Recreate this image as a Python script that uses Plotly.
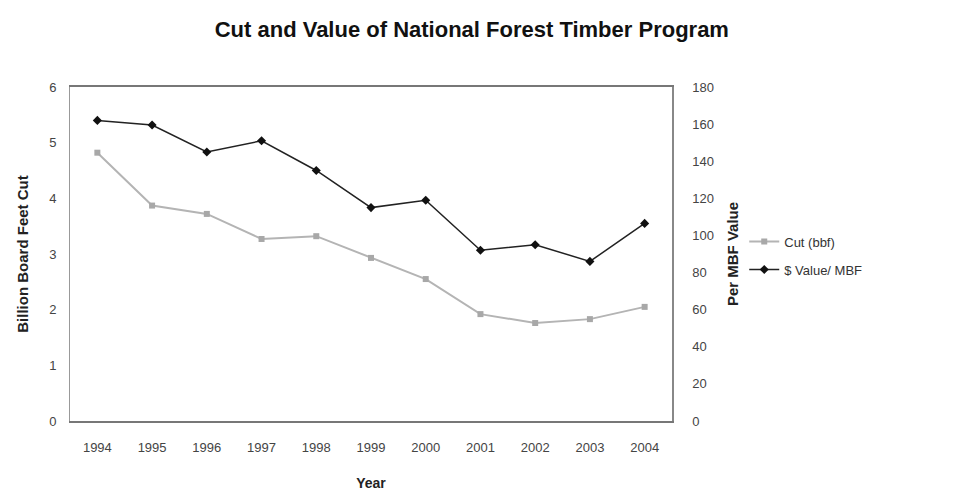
import plotly.graph_objects as go

years = ["1994", "1995", "1996", "1997", "1998", "1999", "2000", "2001", "2002", "2003", "2004"]
cut_bbf = [4.82, 3.87, 3.72, 3.27, 3.32, 2.93, 2.55, 1.92, 1.76, 1.83, 2.05]
value_per_mbf = [162, 159.5, 145, 151, 135, 115, 119, 92, 95, 86, 106.5]

font_family = "Liberation Sans, Arial, sans-serif"

fig = go.Figure()
fig.add_trace(go.Scatter(
    x=years, y=cut_bbf, name="Cut (bbf)", mode="lines+markers",
    line=dict(color="#b4b4b4", width=2),
    marker=dict(symbol="square", size=6, color="#a8a8a8"),
    yaxis="y", legendgroup="a",
))
fig.add_trace(go.Scatter(
    x=years, y=value_per_mbf, name="$ Value/ MBF", mode="lines+markers",
    line=dict(color="#222222", width=1.5),
    marker=dict(symbol="diamond", size=7, color="#111111"),
    yaxis="y2", legendgroup="b",
))

fig.update_layout(
    width=959, height=491,
    margin=dict(l=70, r=287, t=87, b=70),
    paper_bgcolor="white", plot_bgcolor="white",
    font=dict(family=font_family, size=13, color="#333333"),
    title=dict(text="<b>Cut and Value of National Forest Timber Program</b>",
               x=0.492, xanchor="center", y=0.94, yanchor="middle",
               font=dict(size=22, color="#111111")),
    xaxis=dict(
        type="category", range=[-0.5, 10.5], automargin=False,
        showline=True, linecolor="#777777", linewidth=1.5, mirror=True,
        ticks="", showgrid=False, ticklabelstandoff=14,
        title=dict(text="<b>Year</b>", font=dict(size=14, color="#222222"), standoff=26),
        tickfont=dict(size=13, color="#444444"),
    ),
    yaxis=dict(
        range=[0, 6], dtick=1, showgrid=False, automargin=False,
        showline=True, linecolor="#999999", linewidth=1,
        ticks="", zeroline=False, ticklabelstandoff=10,
        title=dict(text="<b>Billion Board Feet Cut</b>", font=dict(size=15, color="#222222"), standoff=16),
        tickfont=dict(size=13, color="#444444"),
    ),
    yaxis2=dict(
        range=[0, 180], dtick=20, overlaying="y", side="right", automargin=False,
        showgrid=False, showline=True, linecolor="#888888", linewidth=1.5,
        ticks="", zeroline=False, ticklabelstandoff=16,
        title=dict(text="<b>Per MBF Value</b>", font=dict(size=15, color="#222222"), standoff=14),
        tickfont=dict(size=13, color="#444444"),
    ),
    legend=dict(x=1.12, xanchor="left", y=0.495, yanchor="middle",
                font=dict(size=13, color="#333333"), bgcolor="rgba(0,0,0,0)",
                tracegroupgap=8),
    showlegend=True,
)

fig.write_html("out.html")
